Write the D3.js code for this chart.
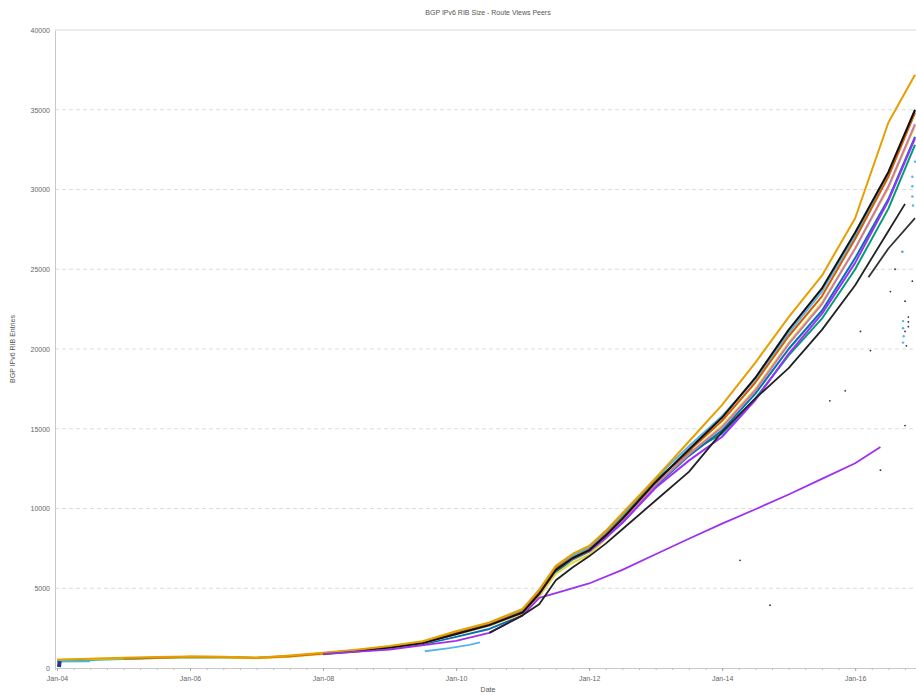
<html>
<head>
<meta charset="utf-8">
<script src="https://cdn.jsdelivr.net/npm/d3@7"></script>
<style>
  body { margin: 0; background: #fff; }
  text { font-family: "Liberation Sans", Arial, sans-serif; }
</style>
</head>
<body>
<script>
var width = 916, height = 695;
var margin = {left: 55, top: 30, bottom: 27};
var plotRight = 921;

// shared sample dates (decimal years) for the main bundle of peers
var dates = [2004.0, 2004.5, 2005.0, 2005.5, 2006.0, 2006.5, 2007.0, 2007.5, 2008.0, 2008.5,
             2009.0, 2009.5, 2010.0, 2010.5, 2011.0, 2011.25, 2011.5, 2011.75, 2012.0, 2012.25,
             2012.5, 2013.0, 2013.5, 2014.0, 2014.5, 2015.0, 2015.5, 2016.0, 2016.5, 2016.9];

var green  = [470, 520, 570, 620, 680, 660, 620, 740, 920, 1100, 1320, 1620, 2200, 2750, 3550, 4800, 6300, 6950, 7450, 8400, 9500, 11800, 13500, 14700, 16900, 19600, 21900, 25000, 28800, 32800];
var sky    = [null, null, null, null, null, null, null, null, 930, 1110, 1340, 1650, 2250, 2800, 3650, 4900, 6350, 7050, 7550, 8500, 9600, 11900, 13900, 15800, 18100, 21000, 23600, 27100, 31000, 34900];
var yellow = [520, 560, 600, 640, 670, 660, 610, 700, 880, 1060, 1280, 1560, 2100, 2650, 3400, 4500, 5900, 6600, 7100, 8100, 9200, 11500, 13400, 15200, 17500, 20400, 22900, 26300, 30100, 34000];
var blue   = [null, null, null, null, null, null, null, null, 860, 1030, 1220, 1480, 1950, 2450, 3300, 4500, 6000, 6800, 7300, 8200, 9100, 11400, 13300, 14900, 17200, 20000, 22400, 25700, 29400, 33300];
var red    = [null, null, 600, 650, 700, 690, 640, 730, 910, 1090, 1310, 1600, 2180, 2720, 3520, 4750, 6250, 6900, 7400, 8350, 9400, 11700, 13600, 15500, 17900, 20800, 23300, 26900, 30800, 34800];
var pink   = [null, null, null, null, null, null, null, null, null, null, 1290, 1570, 2120, 2680, 3480, 4650, 6150, 6850, 7350, 8250, 9250, 11500, 13400, 15100, 17400, 20300, 22800, 26300, 30200, 34100];
var violet = [null, null, null, null, null, null, null, null, null, null, null, null, null, null, null, null, null, null, 7300, 8150, 9100, 11300, 13000, 14500, 16800, 19700, 22200, 25400, 29300, 33200];
var black  = [null, null, null, null, null, null, null, null, 890, 1070, 1290, 1560, 2130, 2690, 3480, 4650, 6150, 6880, 7380, 8300, 9350, 11650, 13700, 15700, 18200, 21200, 23800, 27300, 31100, 35000];
var orange = [520, 580, 640, 690, 720, 700, 640, 780, 950, 1150, 1380, 1680, 2300, 2850, 3700, 4900, 6400, 7150, 7650, 8600, 9700, 11900, 14200, 16500, 19150, 22000, 24600, 28200, 34200, 37200];

// peers that sit apart from the bundle
var blackLowDates  = [2010.5, 2011.0, 2011.25, 2011.5, 2011.75, 2012.0, 2012.25, 2012.5, 2013.0, 2013.5, 2014.0, 2014.5, 2015.0, 2015.5, 2016.0, 2016.5, 2016.75];
var blackLow       = [2200, 3300, 4000, 5500, 6300, 7000, 7800, 8700, 10500, 12300, 14800, 16900, 18800, 21200, 24000, 27400, 29100];
var blackLow2Dates = [2016.2, 2016.5, 2016.9];
var blackLow2      = [24500, 26300, 28200];
var violetLowDates = [2008.0, 2009.0, 2010.0, 2010.5, 2011.0, 2011.25, 2011.5, 2012.0, 2012.5, 2013.0, 2013.5, 2014.0, 2014.5, 2015.0, 2015.5, 2016.0, 2016.38];
var violetLow      = [880, 1150, 1700, 2200, 3300, 4400, 4700, 5300, 6150, 7130, 8100, 9050, 9950, 10880, 11860, 12840, 13850];
var skyShortDates  = [2009.53, 2009.9, 2010.2, 2010.36];
var skyShort       = [1050, 1250, 1450, 1600];
var skyStartDates  = [2004.0, 2004.5];
var skyStart       = [400, 420];
var navyDates      = [2004.03, 2004.04];
var navy           = [60, 430];

// stray samples
var blackDots = [[2016.71, 26100], [2016.75, 23000], [2016.75, 21100], [2016.77, 20200], [2016.38, 12400],
                 [2016.08, 21100], [2016.23, 19900], [2016.53, 23600], [2016.86, 24250], [2016.75, 15200],
                 [2014.72, 3940], [2015.62, 16750], [2015.85, 17375], [2014.27, 6750], [2016.8, 22000],
                 [2016.8, 21700], [2016.8, 21400], [2016.6, 25000]];
var skyDots = [[2016.72, 21750], [2016.72, 21300], [2016.73, 20800], [2016.86, 30800], [2016.86, 30200],
               [2016.86, 29560], [2016.9, 31750], [2016.71, 26100], [2016.72, 20400], [2016.87, 29000]];

var yTicks = [0, 5000, 10000, 15000, 20000, 25000, 30000, 35000, 40000];
var xTicks = [2004, 2006, 2008, 2010, 2012, 2014, 2016];

var bundle = [
  {values: green, color: "#009E73"},
  {values: blue, color: "#0072B2"},
  {values: yellow, color: "#E6D83A"},
  {values: pink, color: "#CC79A7"},
  {values: sky, color: "#56B4E9"},
  {values: red, color: "#D55E00"},
  {values: violet, color: "#9B30FF"},
  {values: black, color: "#111111"},
  {values: orange, color: "#E69F00"}
];
var extra = [
  {dates: violetLowDates, values: violetLow, color: "#A030F0"},
  {dates: blackLowDates, values: blackLow, color: "#222222"},
  {dates: blackLow2Dates, values: blackLow2, color: "#333333"},
  {dates: skyShortDates, values: skyShort, color: "#56B4E9"},
  {dates: skyStartDates, values: skyStart, color: "#56B4E9"},
  {dates: navyDates, values: navy, color: "#1F3A93", w: 4}
];

var x = d3.scaleLinear().domain([2003.97, 2016.99]).range([margin.left, plotRight]);
var y = d3.scaleLinear().domain([0, 40000]).range([height - margin.bottom, margin.top]);

var svg = d3.select("body").append("svg")
  .attr("width", width)
  .attr("height", height);

svg.append("defs").append("clipPath").attr("id", "clip")
  .append("rect")
  .attr("x", margin.left).attr("y", margin.top - 2)
  .attr("width", plotRight - margin.left).attr("height", height - margin.bottom - margin.top + 4);

// grid
svg.append("g").selectAll("line")
  .data(yTicks.slice(1))
  .enter().append("line")
  .attr("x1", margin.left).attr("x2", width)
  .attr("y1", function(d){ return y(d); })
  .attr("y2", function(d){ return y(d); })
  .attr("stroke", function(d){ return d == 40000 ? "#d8d8d8" : "#dcdcdc"; })
  .attr("stroke-dasharray", function(d){ return d == 40000 ? null : "4,3"; });

// axes
var yAxis = d3.axisLeft(y).tickValues(yTicks).tickSize(0).tickPadding(5).tickFormat(d3.format("d"));
var gy = svg.append("g").attr("transform", "translate(" + margin.left + ",0)").call(yAxis);
gy.select(".domain").attr("stroke", "#c8c8c8");
gy.selectAll("text").attr("font-size", 7).attr("fill", "#666");

var minor = d3.range(2004, 2017, 0.25);
var xAxisMinor = d3.axisBottom(x).tickValues(minor).tickSize(2).tickFormat("");
var gxm = svg.append("g").attr("transform", "translate(0," + y(0) + ")").call(xAxisMinor);
gxm.select(".domain").attr("stroke", "#c8c8c8");
gxm.selectAll(".tick line").attr("stroke", "#bbb");

var xAxis = d3.axisBottom(x).tickValues(xTicks).tickSize(3).tickPadding(5)
  .tickFormat(function(d){ return "Jan-" + String(d).slice(2); });
var gx = svg.append("g").attr("transform", "translate(0," + y(0) + ")").call(xAxis);
gx.select(".domain").remove();
gx.selectAll(".tick line").attr("stroke", "#aaa");
gx.selectAll("text").attr("font-size", 7).attr("fill", "#666");

// lines
var plot = svg.append("g").attr("clip-path", "url(#clip)");
var line = d3.line()
  .defined(function(d){ return d[1] != null; })
  .x(function(d){ return x(d[0]); })
  .y(function(d){ return y(d[1]); });

bundle.forEach(function(s){
  plot.append("path")
    .datum(dates.map(function(t, i){ return [t, s.values[i]]; }))
    .attr("d", line)
    .attr("fill", "none")
    .attr("stroke", s.color)
    .attr("stroke-width", 2)
    .attr("stroke-linejoin", "round");
});
extra.forEach(function(s){
  plot.append("path")
    .datum(s.dates.map(function(t, i){ return [t, s.values[i]]; }))
    .attr("d", line)
    .attr("fill", "none")
    .attr("stroke", s.color)
    .attr("stroke-width", s.w || 1.8)
    .attr("stroke-linejoin", "round");
});

plot.selectAll(".bdot").data(blackDots).enter().append("circle")
  .attr("cx", function(d){ return x(d[0]); })
  .attr("cy", function(d){ return y(d[1]); })
  .attr("r", 0.9).attr("fill", "#333");
plot.selectAll(".sdot").data(skyDots).enter().append("circle")
  .attr("cx", function(d){ return x(d[0]); })
  .attr("cy", function(d){ return y(d[1]); })
  .attr("r", 1.2).attr("fill", "#56B4E9");

// labels
svg.append("text").attr("x", (margin.left + plotRight) / 2).attr("y", 15)
  .attr("text-anchor", "middle").attr("font-size", 7).attr("fill", "#555")
  .text("BGP IPv6 RIB Size - Route Views Peers");
svg.append("text").attr("x", (margin.left + plotRight) / 2).attr("y", 692)
  .attr("text-anchor", "middle").attr("font-size", 7).attr("fill", "#555")
  .text("Date");
svg.append("text")
  .attr("transform", "translate(15," + ((margin.top + y(0)) / 2) + ") rotate(-90)")
  .attr("text-anchor", "middle").attr("font-size", 7).attr("fill", "#555")
  .text("BGP IPv6 RIB Entries");
</script>
</body>
</html>
